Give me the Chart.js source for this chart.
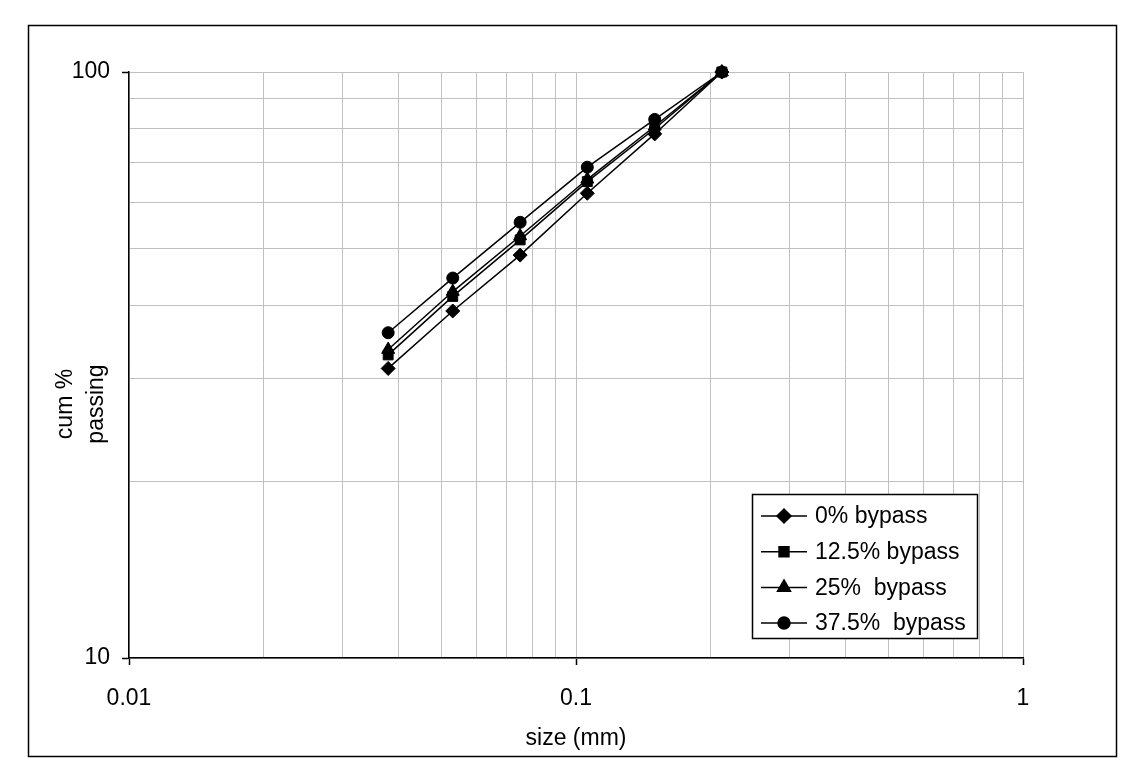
<!DOCTYPE html>
<html>
<head>
<meta charset="utf-8">
<script src="https://cdn.jsdelivr.net/npm/chart.js@4.4.1/dist/chart.umd.min.js"></script>
<style>
  html, body { margin: 0; padding: 0; background: #fff; }
</style>
</head>
<body>
<canvas id="psd" width="1140" height="780"></canvas>
<script>
// sieve sizes (mm) and cumulative % passing per bypass level
const sizes = [0.038, 0.053, 0.075, 0.106, 0.150, 0.212];
const bypass0 = [31.2, 39.1, 48.7, 62.1, 78.4, 100];
const bypass125 = [32.9, 41.4, 51.7, 65.0, 80.0, 100];
const bypass25 = [33.6, 42.2, 52.5, 65.6, 80.8, 100];
const bypass375 = [35.9, 44.5, 55.4, 68.8, 83.0, 100];
const seriesLabels = ["0% bypass", "12.5% bypass", "25%  bypass", "37.5%  bypass"];
const xLabels = [0.01, 0.1, 1];
const yLabels = [10, 100];

const FONT = '"Liberation Sans", Arial, sans-serif';
const GRID = "#c0c0c0";

const isLabelled = (v, list) => list.some((t) => Math.abs(v - t) / t < 1e-6);

// gridline positions: 1..9 times each decade, closed by the last label
function decadeTicks(labels) {
  const out = [];
  for (let d = 0; d < labels.length - 1; d++) {
    for (let m = 1; m <= 9; m++) out.push({ value: +(labels[d] * m).toPrecision(6) });
  }
  out.push({ value: labels[labels.length - 1] });
  return out;
}

function series(label, values, style, radius) {
  return {
    label,
    data: sizes.map((x, i) => ({ x, y: values[i] })),
    borderColor: "#000",
    backgroundColor: "#000",
    borderWidth: 1.5,
    pointStyle: style,
    pointRadius: radius,
    pointHoverRadius: radius,
    pointBorderWidth: 1,
    tension: 0,
    clip: false,
  };
}

const datasets = [
  series(seriesLabels[0], bypass0, "rectRot", 7),
  series(seriesLabels[1], bypass125, "rect", 7),
  series(seriesLabels[2], bypass25, "triangle", 7.5),
  series(seriesLabels[3], bypass375, "circle", 6),
];

// outer frame, axis titles and the boxed legend inside the plot
const decorations = {
  id: "decorations",
  beforeDraw(chart) {
    const c = chart.ctx;
    c.save();
    c.fillStyle = "#fff";
    c.fillRect(0, 0, chart.width, chart.height);
    c.restore();
  },
  afterDraw(chart) {
    const c = chart.ctx;
    const area = chart.chartArea;
    c.save();
    c.strokeStyle = "#000";
    c.lineWidth = 1.5;
    c.strokeRect(28.5, 25.5, 1088, 731);

    c.fillStyle = "#000";
    c.font = "23px " + FONT;
    c.textAlign = "center";
    c.textBaseline = "middle";
    c.fillText("size (mm)", (area.left + area.right) / 2, 739);

    c.save();
    c.translate(66, 404);
    c.rotate(-Math.PI / 2);
    c.fillText("cum %", 0, 0);
    c.restore();
    c.save();
    c.translate(97, 404);
    c.rotate(-Math.PI / 2);
    c.fillText("passing", 0, 0);
    c.restore();

    // legend
    const bx = 752, by = 494, bw = 225, bh = 144;
    c.fillStyle = "#fff";
    c.fillRect(bx, by, bw, bh);
    c.strokeStyle = "#000";
    c.lineWidth = 1.5;
    c.strokeRect(bx + 0.5, by + 0.5, bw, bh);
    c.textAlign = "left";
    chart.data.datasets.forEach((ds, i) => {
      const y = 516 + i * 35.7;
      c.strokeStyle = "#000";
      c.lineWidth = 1.5;
      c.beginPath();
      c.moveTo(761, y);
      c.lineTo(807, y);
      c.stroke();
      c.fillStyle = "#000";
      Chart.helpers.drawPoint(c, { pointStyle: ds.pointStyle, radius: ds.pointRadius, rotation: 0, borderWidth: 1 }, 784, y);
      c.fillStyle = "#000";
      c.fillText(ds.label, 815, y + 1);
    });
    c.restore();
  },
};

const config = {
  type: "line",
  data: { datasets },
  options: {
    responsive: false,
    animation: false,
    events: [],
    layout: { padding: { left: 0, top: 72, right: 117, bottom: 0 } },
    scales: {
      x: {
        type: "logarithmic",
        min: 0.01,
        max: 1,
        afterBuildTicks: (scale) => { scale.ticks = decadeTicks(xLabels); },
        grid: {
          color: GRID,
          lineWidth: 1,
          tickLength: 7,
          tickColor: (ctx) => (ctx.tick && isLabelled(ctx.tick.value, xLabels) ? "#000" : "rgba(0,0,0,0)"),
          tickWidth: 1.5,
        },
        border: { color: "#000", width: 1.5 },
        ticks: {
          autoSkip: false,
          maxRotation: 0,
          padding: 20,
          color: "#000",
          font: { family: FONT, size: 23 },
          callback: (v) => (isLabelled(v, xLabels) ? String(v) : ""),
        },
        afterFit: (scale) => { scale.height = 122; },
      },
      y: {
        type: "logarithmic",
        min: 10,
        max: 100,
        afterBuildTicks: (scale) => { scale.ticks = decadeTicks(yLabels); },
        grid: {
          color: GRID,
          lineWidth: 1,
          tickLength: 7,
          tickColor: (ctx) => (ctx.tick && isLabelled(ctx.tick.value, yLabels) ? "#000" : "rgba(0,0,0,0)"),
          tickWidth: 1.5,
        },
        border: { color: "#000", width: 1.5 },
        ticks: {
          autoSkip: false,
          padding: 12,
          color: "#000",
          font: { family: FONT, size: 23 },
          callback: (v) => (isLabelled(v, yLabels) ? String(v) : ""),
        },
        afterFit: (scale) => { scale.width = 129; },
      },
    },
    plugins: {
      legend: { display: false },
      tooltip: { enabled: false },
    },
  },
  plugins: [decorations],
};

new Chart(document.getElementById("psd"), config);
</script>
</body>
</html>
